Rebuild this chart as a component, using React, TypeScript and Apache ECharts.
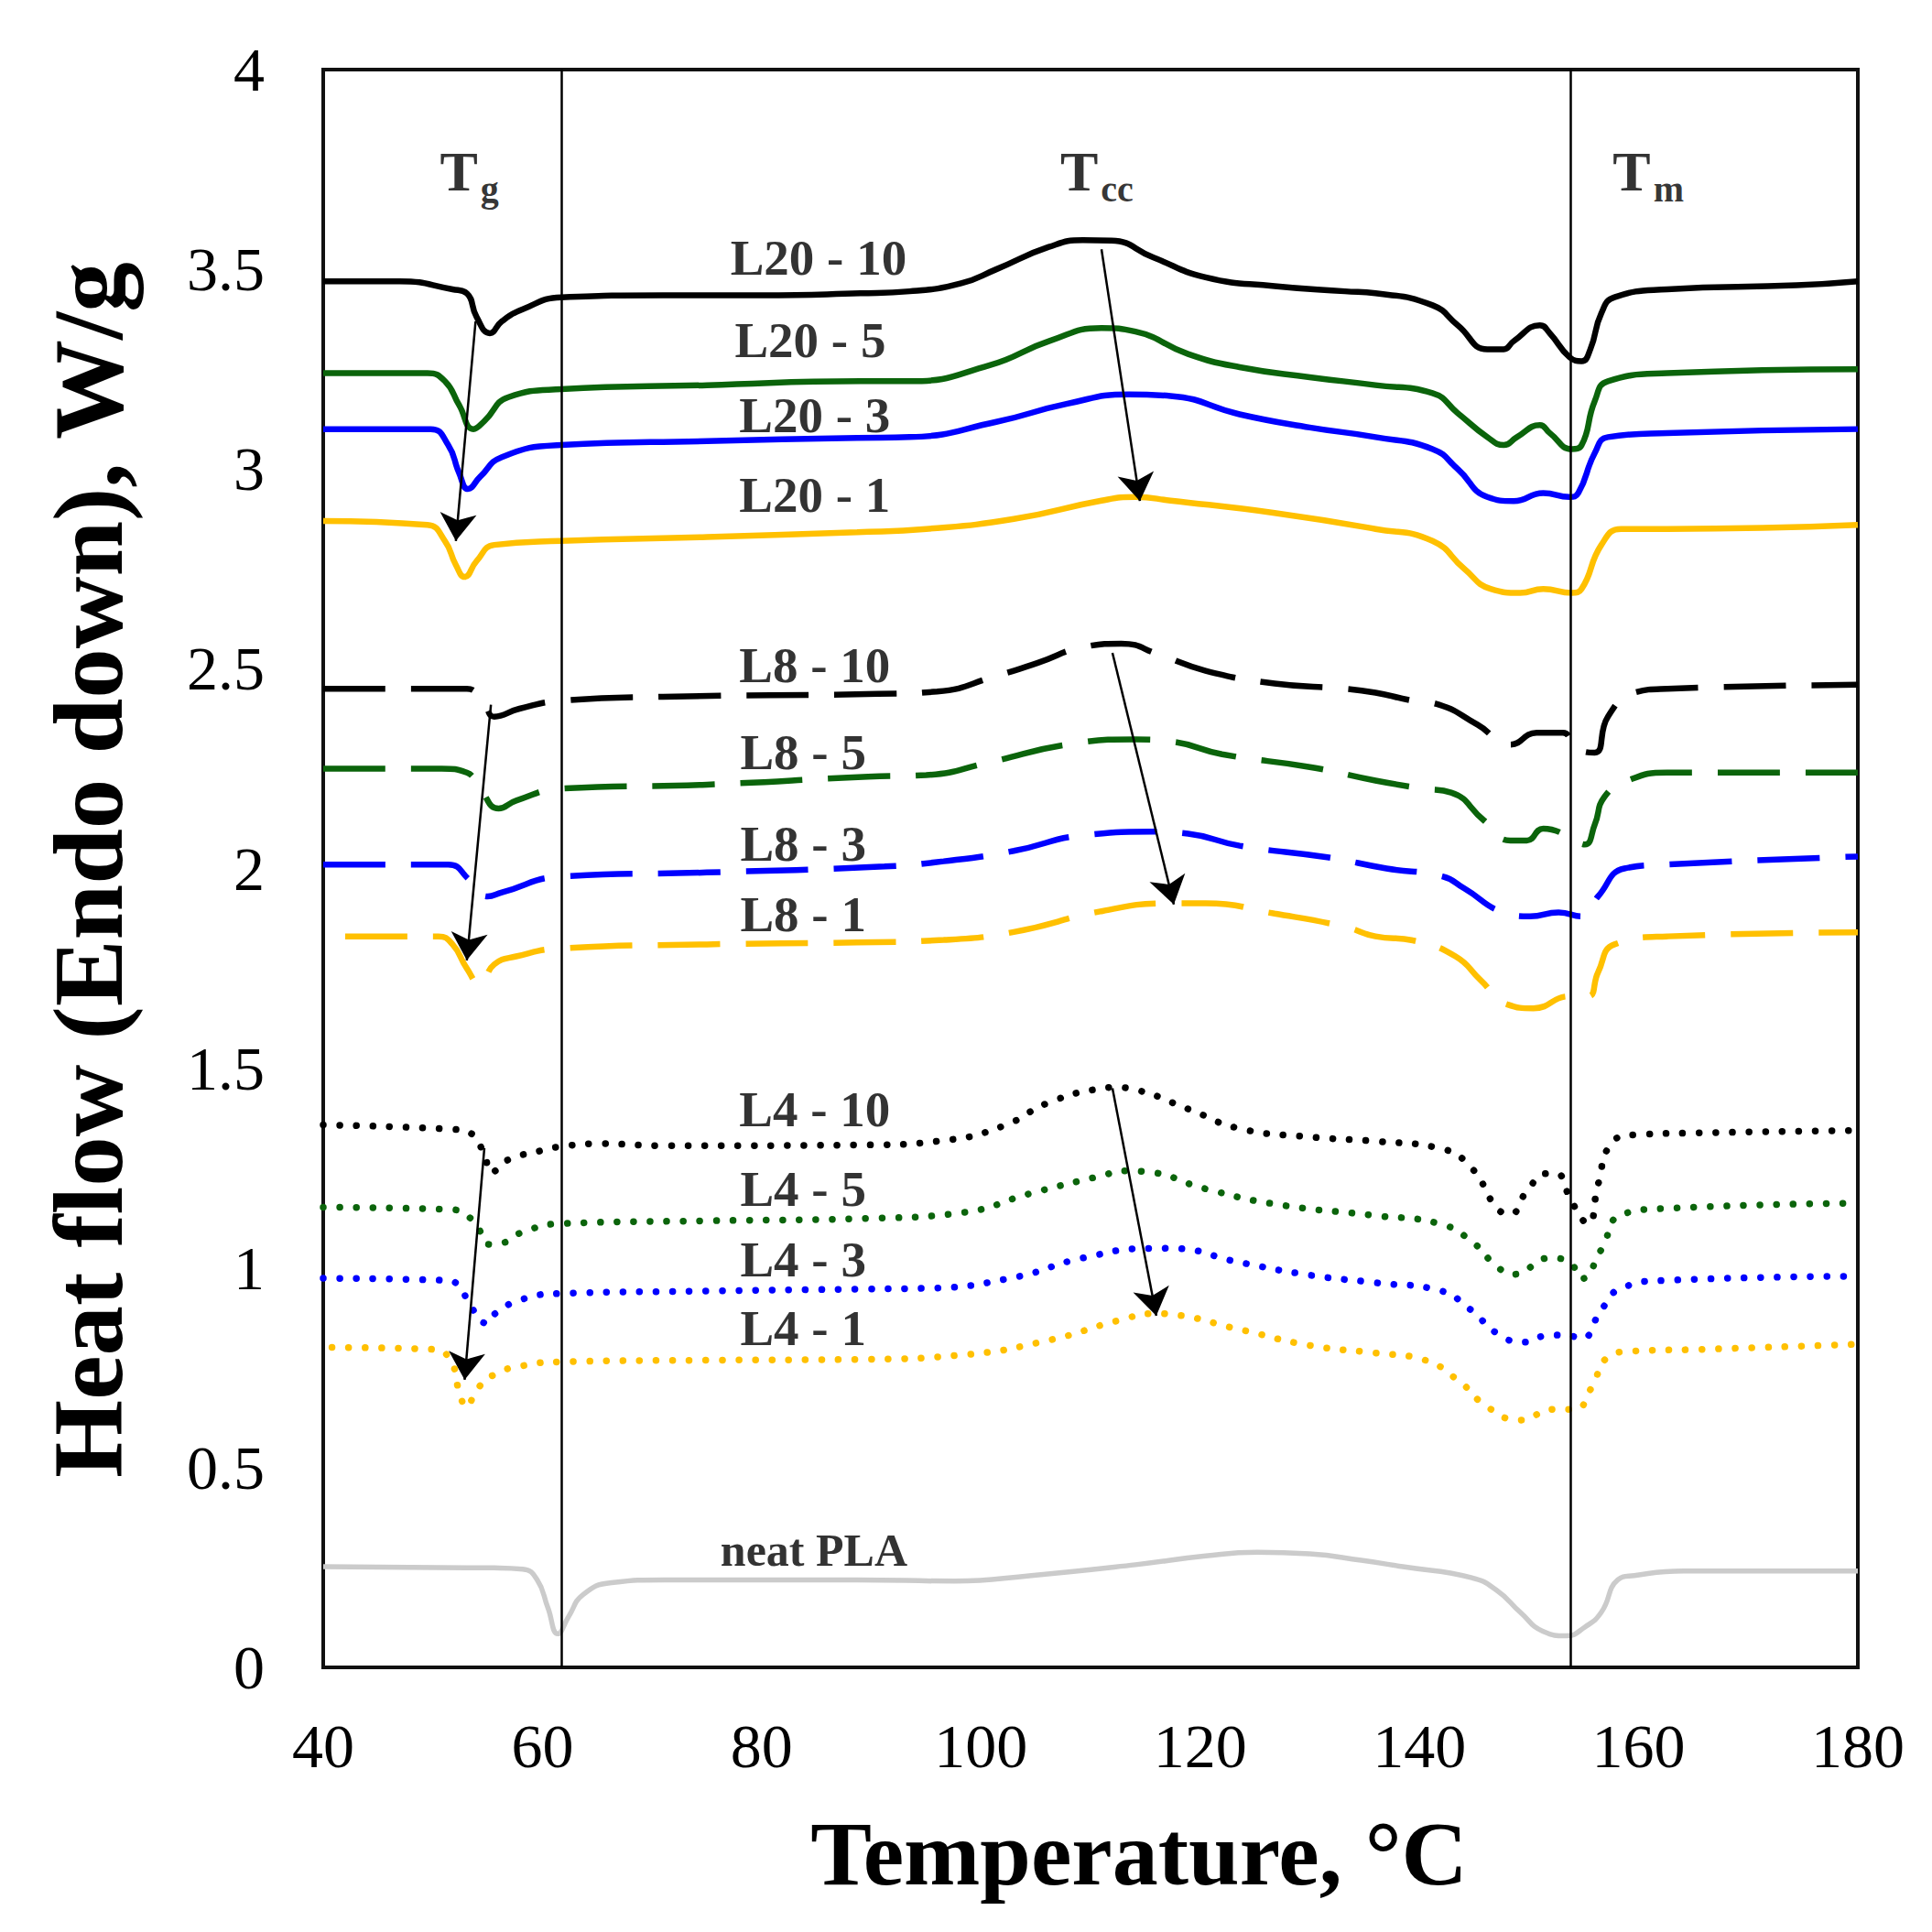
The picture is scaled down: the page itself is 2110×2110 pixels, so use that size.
import React, { useEffect, useRef } from "react";
import * as echarts from "echarts";

// ---- data: [temperature °C, heat flow W/g] ----
const L20_10: number[][] = [[40,3.47],[47,3.47],[51.8,3.45],[53.1,3.44],[54,3.38],[55.2,3.34],[56.3,3.37],[58.2,3.40],[61.7,3.43],[71,3.435],[80,3.435],[89,3.44],[93.5,3.445],[98.2,3.465],[101.4,3.50],[106.2,3.556],[109.3,3.573],[111.9,3.572],[115.7,3.53],[120.5,3.48],[126.8,3.458],[133.2,3.445],[136,3.44],[141.2,3.41],[143.5,3.36],[146.2,3.30],[147.7,3.30],[148.6,3.32],[151,3.36],[151.9,3.34],[153.7,3.28],[154.8,3.27],[155.6,3.30],[156.6,3.39],[157.8,3.43],[162.6,3.45],[174.4,3.46],[180,3.47]];
const L20_5: number[][] = [[40,3.24],[49.5,3.24],[51.1,3.22],[52.4,3.16],[53.7,3.10],[54.7,3.12],[56.9,3.18],[61.7,3.20],[75,3.21],[89,3.22],[93.5,3.22],[100.8,3.26],[106.2,3.32],[111,3.353],[114.1,3.344],[118.9,3.288],[123.6,3.255],[130,3.23],[136,3.21],[141.2,3.19],[143.5,3.14],[146.2,3.08],[147.7,3.06],[148.9,3.08],[151,3.11],[151.9,3.09],[153.9,3.05],[154.8,3.06],[156,3.17],[157.2,3.22],[162.6,3.24],[180,3.25]];
const L20_3: number[][] = [[40,3.10],[49.8,3.10],[51.4,3.06],[52.4,2.99],[53.2,2.95],[54.3,2.98],[56.3,3.03],[61.7,3.06],[75,3.07],[88.7,3.078],[93.5,3.08],[101.4,3.118],[107.8,3.163],[113.5,3.187],[117.3,3.183],[123.6,3.137],[130,3.104],[136,3.08],[141.2,3.05],[143.5,3.00],[146.2,2.93],[148.6,2.92],[151.3,2.94],[153.7,2.93],[154.5,2.94],[156,3.04],[157.2,3.08],[162.6,3.09],[180,3.10]];
const L20_1: number[][] = [[40,2.87],[49.5,2.86],[51.1,2.82],[52.1,2.76],[52.9,2.73],[54,2.77],[55.6,2.81],[61.7,2.82],[75,2.83],[88.7,2.842],[95,2.85],[103,2.875],[111,2.921],[114.1,2.93],[117.3,2.921],[126.8,2.89],[136,2.85],[141.2,2.82],[144.1,2.75],[146.5,2.70],[149.2,2.69],[151.3,2.70],[153.9,2.69],[154.8,2.70],[156.6,2.81],[158.4,2.85],[162.6,2.85],[180,2.86]];

const L8_10: number[][] = [[40,2.45],[50.5,2.45],[53.1,2.45],[54.7,2.41],[55.6,2.38],[57.9,2.40],[61.7,2.42],[71,2.43],[90.6,2.437],[96,2.443],[101.4,2.482],[105.2,2.515],[109.3,2.554],[112.8,2.563],[116.3,2.535],[120.5,2.495],[126.8,2.463],[133.2,2.45],[136,2.44],[139.4,2.42],[141.8,2.41],[145.3,2.36],[148.3,2.31],[150.7,2.34],[153.1,2.34],[154.3,2.30],[156,2.29],[157.2,2.38],[159.6,2.44],[162.6,2.45],[180,2.46]];
const L8_5: number[][] = [[40,2.25],[50.8,2.25],[53.1,2.24],[54.3,2.20],[56,2.15],[57.6,2.17],[61.7,2.20],[75,2.21],[89.7,2.23],[95,2.234],[100.8,2.266],[107.8,2.31],[114.1,2.323],[117.3,2.318],[122,2.286],[130,2.254],[136,2.22],[140.3,2.20],[142.9,2.19],[145.9,2.12],[148.3,2.07],[149.8,2.07],[151.3,2.10],[153.7,2.08],[155.1,2.06],[156,2.11],[156.9,2.18],[159,2.22],[162.6,2.24],[180,2.24]];
const L8_3: number[][] = [[40,2.01],[51.4,2.01],[53.4,1.97],[55,1.93],[56.3,1.94],[61.7,1.98],[75,1.99],[91.2,2.005],[96.6,2.018],[103,2.044],[109.3,2.083],[115.7,2.092],[118.9,2.087],[123.6,2.057],[131.6,2.028],[137,2.00],[142.1,1.98],[144.1,1.95],[147.7,1.89],[150.1,1.88],[152.7,1.89],[154.8,1.88],[156.3,1.93],[158.7,2.00],[162.6,2.01],[180,2.03]];
const L8_1: number[][] = [[42,1.83],[47.9,1.83],[50.5,1.83],[51.8,1.81],[53.1,1.75],[54.3,1.71],[55.6,1.76],[57.6,1.78],[61.7,1.80],[75,1.81],[88.7,1.815],[96.6,1.821],[103,1.841],[111,1.893],[117.3,1.913],[120.5,1.913],[126.8,1.887],[133.2,1.854],[136,1.83],[139.4,1.82],[143.3,1.78],[145.6,1.72],[148,1.66],[150.4,1.65],[153.7,1.68],[155.4,1.68],[156.3,1.74],[157.8,1.81],[162.6,1.83],[180,1.84]];

const L4_10: number[][] = [[40,1.358],[51.8,1.347],[53.4,1.338],[54.7,1.284],[55.3,1.239],[56.9,1.271],[59.8,1.293],[61.7,1.304],[65.3,1.311],[71.1,1.306],[89.7,1.308],[96.6,1.319],[102,1.355],[106.2,1.414],[110.9,1.449],[112.2,1.452],[114.1,1.446],[118.9,1.398],[123.6,1.349],[130,1.328],[136,1.317],[141.8,1.30],[144.7,1.252],[147.1,1.149],[148.3,1.135],[149.8,1.192],[151.6,1.236],[152.5,1.236],[153.9,1.165],[155.4,1.111],[156.3,1.209],[157.5,1.311],[159.6,1.333],[165.5,1.338],[180,1.344]];
const L4_5: number[][] = [[40,1.152],[51.8,1.146],[53.1,1.131],[54,1.106],[55.2,1.059],[56.3,1.062],[58.2,1.09],[61.7,1.111],[75,1.118],[89.7,1.124],[98.2,1.138],[104.6,1.187],[110.9,1.23],[113.2,1.243],[115,1.241],[120.5,1.198],[126.8,1.16],[136,1.131],[141.8,1.111],[144.7,1.068],[147.1,1.003],[148.6,0.984],[151.9,1.025],[153.7,1.014],[154.8,0.973],[156.6,1.046],[158.4,1.133],[162.6,1.149],[180,1.162]];
const L4_3: number[][] = [[40,0.974],[51.1,0.969],[52.4,0.955],[53.4,0.906],[55,0.861],[55.6,0.884],[58.2,0.922],[61.7,0.936],[75,0.942],[88.7,0.947],[95,0.949],[103,0.976],[109.3,1.025],[115.7,1.049],[117.3,1.049],[123.6,1.014],[130,0.982],[136,0.963],[141.8,0.944],[144.7,0.895],[147.1,0.836],[149.5,0.814],[151.9,0.832],[153.7,0.83],[154.8,0.823],[156.6,0.895],[158.4,0.949],[162.6,0.969],[180,0.979]];
const L4_1: number[][] = [[40.8,0.801],[50.2,0.796],[51.8,0.757],[52.4,0.69],[53.1,0.652],[54,0.695],[55.6,0.733],[58.2,0.755],[61.7,0.765],[75,0.769],[88.7,0.771],[98.2,0.782],[106.2,0.819],[112.5,0.868],[116,0.886],[117.3,0.884],[123.6,0.846],[130,0.806],[136,0.787],[140.3,0.771],[143.6,0.717],[146.2,0.652],[149.2,0.619],[152.2,0.646],[154.2,0.646],[155.7,0.70],[157.2,0.776],[159.6,0.792],[165.5,0.796],[180,0.809]];

const NEAT_PLA: number[][] = [[40,0.252],[55.6,0.249],[58.2,0.246],[59.5,0.22],[60.5,0.149],[61.4,0.084],[62.4,0.128],[63.7,0.182],[66.3,0.212],[71.1,0.219],[88.7,0.219],[97.6,0.216],[104.6,0.23],[114.1,0.257],[120.5,0.279],[125.2,0.288],[130,0.284],[134.7,0.268],[138.5,0.252],[144.7,0.225],[147.1,0.192],[149.2,0.138],[151.3,0.09],[153.4,0.079],[155.1,0.101],[156.6,0.138],[158.1,0.219],[159.6,0.23],[164.1,0.241],[180,0.241]];

const SERIES_NAMES = ["L20 - 10","L20 - 5","L20 - 3","L20 - 1","L8 - 10","L8 - 5","L8 - 3","L8 - 1","L4 - 10","L4 - 5","L4 - 3","L4 - 1","neat PLA"];
const SERIES_DATA = [L20_10,L20_5,L20_3,L20_1,L8_10,L8_5,L8_3,L8_1,L4_10,L4_5,L4_3,L4_1,NEAT_PLA];

// transition lines (°C)
const TRANSITION_T = [61.7, 153.8];

// arrows: [start, end] in data coords
const TG_ARROWS: number[][][] = [[[53.9,3.37],[52.1,2.82]],[[55.3,2.41],[53.1,1.77]],[[54.7,1.30],[52.9,0.72]]];
const TCC_ARROWS: number[][][] = [[[111.0,3.55],[114.5,2.92]],[[112.0,2.54],[117.6,1.91]],[[112.0,1.45],[116.0,0.88]]];

// series label anchors (left edge, vertical centre) in data coords
const LABEL_X = [77.1,77.5,77.9,77.9,77.9,78.0,78.0,78.0,77.9,78.0,78.0,78.0,76.2];
const LABEL_Y = [3.53,3.322,3.134,2.936,2.51,2.29,2.062,1.886,1.398,1.197,1.022,0.849,0.293];

// transition-temperature annotations
const TRANS_MAIN = ["T","T","T"];
const TRANS_SUB = ["g","cc","m"];
const TRANS_X = [50.6,107.2,157.6];
const TRANS_SUB_X = [54.3,110.9,161.3];
const TRANS_Y = 3.745;
const TRANS_SUB_Y = 3.70;

const COLORS = ["#000000","#0b640b","#0000ff","#ffc000"];
const FONT = "'Liberation Serif', 'Times New Roman', serif";

export default function App() {
  const ref = useRef<HTMLDivElement>(null);
  useEffect(() => {
    if (!ref.current) return;
    const chart = echarts.init(ref.current, undefined, { renderer: "svg" });

    const lineSeries: any[] = SERIES_DATA.map((d, i) => {
      const group = i < 4 ? 0 : i < 8 ? 1 : i < 12 ? 2 : 3;
      const color = group === 3 ? "#cbcbcb" : COLORS[i % 4];
      const lineStyle: any = { color, width: 6.5 };
      if (group === 1) { lineStyle.type = [68, 28]; lineStyle.width = 6.5; }
      if (group === 2) { lineStyle.type = [0.1, 18]; lineStyle.cap = "round"; lineStyle.width = 7.5; }
      if (group === 3) { lineStyle.width = 5.5; }
      return {
        name: SERIES_NAMES[i],
        type: "line",
        data: d,
        showSymbol: false,
        symbol: "none",
        smooth: 0.5,
        lineStyle,
        z: group === 3 ? 1 : 3,
        silent: true,
      };
    });

    const arrowData = [...TG_ARROWS, ...TCC_ARROWS].map((a) => [
      { coord: a[0] },
      { coord: a[1] },
    ]);

    const annotSeries = {
      type: "line",
      data: [],
      silent: true,
      markLine: {
        silent: true,
        symbol: "none",
        label: { show: false },
        lineStyle: { color: "#000", width: 2.5, type: "solid" },
        data: TRANSITION_T.map((t) => ({ xAxis: t })),
        animation: false,
      },
    };
    const arrowSeries = {
      type: "line",
      data: [],
      silent: true,
      markLine: {
        silent: true,
        symbol: ["none", "arrow"],
        symbolSize: 30,
        label: { show: false },
        lineStyle: { color: "#000", width: 2.5, type: "solid" },
        data: arrowData,
        animation: false,
      },
    };

    const labelItems: any[] = SERIES_NAMES.map((n, i) => ({
      value: [LABEL_X[i], LABEL_Y[i]],
      label: {
        show: true, formatter: n, position: "right", distance: 0,
        fontFamily: FONT, fontWeight: "bold", fontSize: i === 12 ? 50 : 55, color: "#000",
      },
    }));
    TRANS_MAIN.forEach((t, i) => {
      labelItems.push({
        value: [TRANS_X[i], TRANS_Y],
        label: { show: true, formatter: t, position: "right", distance: 0, fontFamily: FONT, fontWeight: "bold", fontSize: 62, color: "#000" },
      });
      labelItems.push({
        value: [TRANS_SUB_X[i], TRANS_SUB_Y],
        label: { show: true, formatter: TRANS_SUB[i], position: "right", distance: 0, fontFamily: FONT, fontWeight: "bold", fontSize: 40, color: "#000" },
      });
    });
    const textSeries = {
      type: "scatter",
      data: labelItems,
      symbolSize: 1,
      itemStyle: { color: "rgba(0,0,0,0)" },
      silent: true,
      z: 5,
    };

    chart.setOption({
      animation: false,
      backgroundColor: "#ffffff",
      grid: { left: 353, right: 81, top: 76, bottom: 289, show: true, borderColor: "#111", borderWidth: 4, backgroundColor: "transparent" },
      xAxis: {
        type: "value", min: 40, max: 180, interval: 20,
        axisLine: { show: false }, axisTick: { show: false }, splitLine: { show: false },
        axisLabel: { fontFamily: FONT, fontSize: 68, color: "#000", margin: 52 },
      },
      yAxis: {
        type: "value", min: 0, max: 4, interval: 0.5,
        axisLine: { show: false }, axisTick: { show: false }, splitLine: { show: false },
        axisLabel: { fontFamily: FONT, fontSize: 68, color: "#000", margin: 64 },
      },
      graphic: [
        { type: "text", x: 1244, y: 2024, silent: true,
          style: { text: "Temperature, °C", fontFamily: FONT, fontWeight: "bold", fontSize: 100, fill: "#000", align: "center", verticalAlign: "middle" } },
        { type: "text", x: 96, y: 950, rotation: Math.PI / 2, silent: true,
          style: { text: "Heat flow (Endo down), W/g", fontFamily: FONT, fontWeight: "bold", fontSize: 109, fill: "#000", align: "center", verticalAlign: "middle" } },
      ],
      series: [...lineSeries, annotSeries, arrowSeries, textSeries],
    });
    return () => chart.dispose();
  }, []);
  return (
    <div
      ref={ref}
      style={{ position: "fixed", left: 0, top: 0, width: 2110, height: 2110, background: "#fff" }}
    />
  );
}
